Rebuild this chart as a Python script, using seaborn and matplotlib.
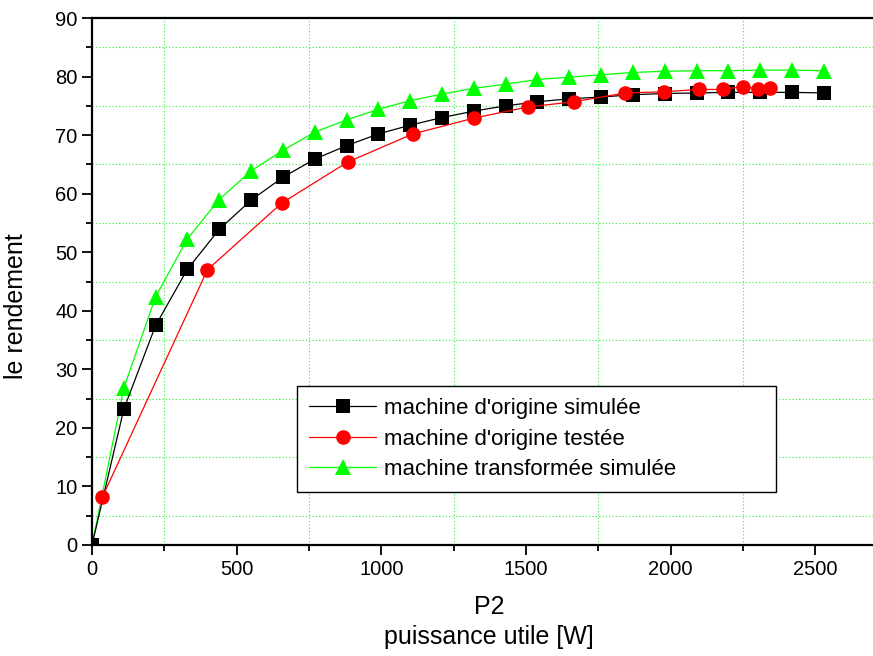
import matplotlib
matplotlib.use("Agg")
import matplotlib.pyplot as plt
import seaborn as sns
import numpy as np
import pandas as pd
from matplotlib.ticker import MultipleLocator

sns.set_style("white")
plt.rcParams['font.family'] = ['Liberation Sans', 'DejaVu Sans']
plt.rcParams['text.color'] = 'black'
plt.rcParams['axes.labelcolor'] = 'black'
plt.rcParams['xtick.color'] = 'black'
plt.rcParams['ytick.color'] = 'black'

# Data
x_sim = [0, 110, 220, 330, 440, 550, 660, 770, 880, 990, 1100, 1210, 1320,
         1430, 1540, 1650, 1760, 1870, 1980, 2090, 2200, 2310, 2420, 2530]
y_orig_sim = [0, 23.2, 37.5, 47.1, 53.9, 58.9, 62.8, 65.9, 68.2, 70.2, 71.7, 73.0, 74.1,
              75.0, 75.7, 76.2, 76.5, 76.9, 77.1, 77.2, 77.3, 77.3, 77.3, 77.2]
y_trans_sim = [0, 26.8, 42.4, 52.3, 59.0, 63.9, 67.4, 70.5, 72.6, 74.4, 75.9, 77.0, 78.0,
               78.7, 79.5, 79.9, 80.3, 80.7, 80.9, 81.0, 81.0, 81.1, 81.1, 81.0]
x_test = [36, 399, 656, 884, 1109, 1320, 1506, 1667, 1843, 1979, 2097, 2180, 2250, 2304, 2345]
y_test = [8.2, 47.0, 58.4, 65.4, 70.2, 72.9, 74.8, 75.7, 77.2, 77.4, 77.8, 77.8, 78.3, 77.9, 78.0]

labels = ["machine d'origine simulée", "machine d'origine testée", "machine transformée simulée"]

fig = plt.figure(figsize=(8.73, 6.56), dpi=100)
ax = fig.add_axes([92/873, 1 - 545/656, 1 - 92/873, (545 - 18)/656])

sns.lineplot(x=x_sim, y=y_orig_sim, ax=ax, color='black', lw=0.9, marker='s',
             markersize=10, markeredgewidth=0, label=labels[0], zorder=3)
sns.lineplot(x=x_test, y=y_test, ax=ax, color='red', lw=0.9, marker='o',
             markersize=10.5, markeredgewidth=0, label=labels[1], zorder=4)
sns.lineplot(x=x_sim, y=y_trans_sim, ax=ax, color='#00ff00', lw=0.9, marker='^',
             markersize=12, markeredgewidth=0, label=labels[2], zorder=2)

ax.set_xlim(0, 2700)
ax.set_ylim(0, 90)
ax.xaxis.set_major_locator(MultipleLocator(500))
ax.xaxis.set_minor_locator(MultipleLocator(250))
ax.yaxis.set_major_locator(MultipleLocator(10))
ax.yaxis.set_minor_locator(MultipleLocator(5))

# grid only on minor positions that are not major
ax.grid(False)
for xv in [250, 750, 1250, 1750, 2250]:
    ax.axvline(xv, color='#33ee33', lw=0.8, ls=(0, (1, 2)), zorder=1)
for yv in [5, 15, 25, 35, 45, 55, 65, 75, 85]:
    ax.axhline(yv, color='#33ee33', lw=0.8, ls=(0, (1, 2)), zorder=1)

for s in ['left', 'bottom', 'top']:
    ax.spines[s].set_linewidth(1.6)
    ax.spines[s].set_color('black')
ax.spines['right'].set_visible(False)

ax.tick_params(axis='both', which='major', direction='out', length=7.5, width=1.3,
               colors='black', labelsize=14.5, left=True, bottom=True, pad=3)
ax.tick_params(axis='both', which='minor', direction='out', length=4.5, width=1.3,
               colors='black', left=True, bottom=True)

ax.set_xlabel("P2\npuissance utile [W]", fontsize=18, linespacing=1.3, color='black')
ax.xaxis.set_label_coords((489 - 92)/781, (545 - 595)/527)
ax.set_ylabel("le rendement", fontsize=18, color='black')
ax.yaxis.set_label_coords((28 - 92)/781, (545 - 306)/527)

leg = ax.legend(loc='upper left',
                bbox_to_anchor=((297 - 92)/781, (545 - 492)/527, (776 - 297)/781, (492 - 386)/527),
                mode='expand', fontsize=16, frameon=True, fancybox=False,
                handlelength=3.0, handletextpad=0.35,
                borderpad=0.55, labelspacing=0.42, borderaxespad=0)
leg.get_frame().set_edgecolor('black')
leg.get_frame().set_linewidth(1.0)
leg.get_frame().set_alpha(1)
for t in leg.get_texts():
    t.set_color('black')

fig.savefig("out.png", dpi=100)
